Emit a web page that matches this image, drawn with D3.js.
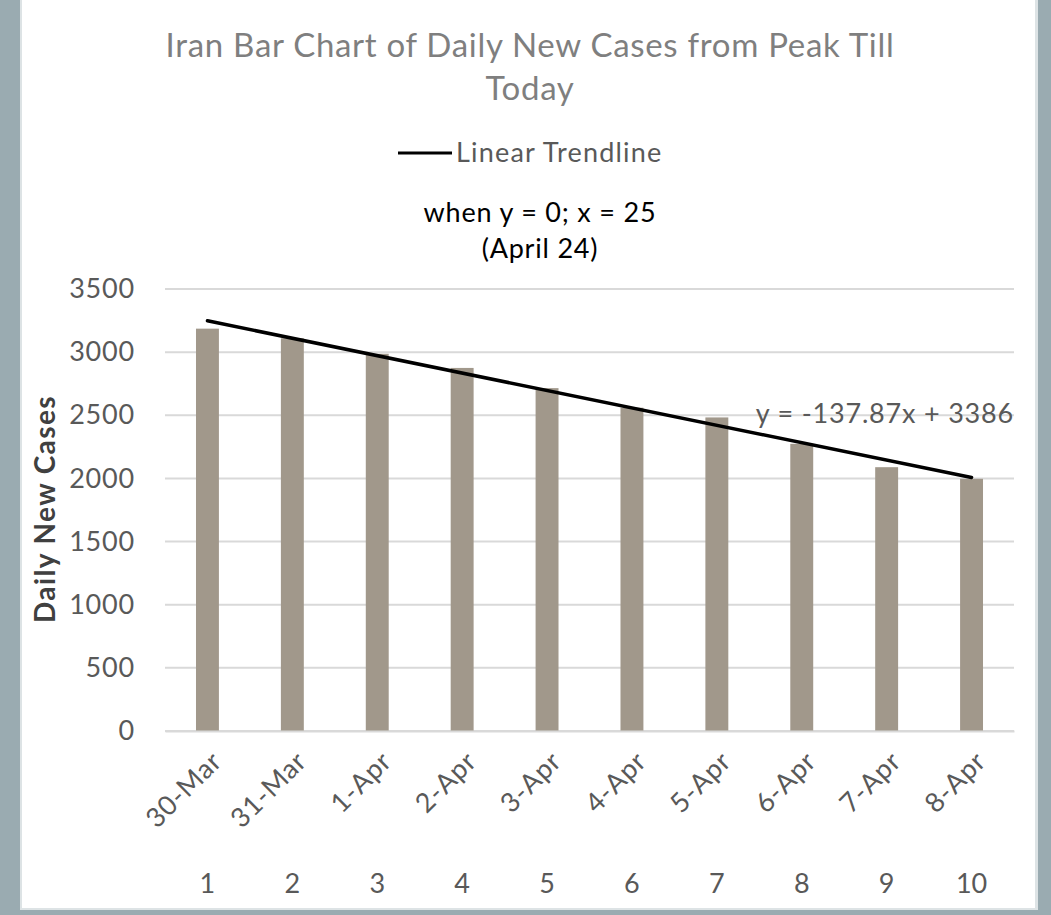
<!DOCTYPE html>
<html>
<head>
<meta charset="utf-8">
<script src="https://cdn.jsdelivr.net/npm/d3@7"></script>
<style>
  body { margin: 0; background: #9aabb1; }
  #chart { position: absolute; left: 0; top: 0; }
</style>
</head>
<body>
<div id="chart"></div>
<script>
const dates = ["30-Mar", "31-Mar", "1-Apr", "2-Apr", "3-Apr", "4-Apr", "5-Apr", "6-Apr", "7-Apr", "8-Apr"];
const dayIndex = [1, 2, 3, 4, 5, 6, 7, 8, 9, 10];
const newCases = [3186, 3110, 2987, 2875, 2715, 2560, 2483, 2274, 2089, 1997];
const yTicks = [0, 500, 1000, 1500, 2000, 2500, 3000, 3500];
const slope = -137.87, intercept = 3386;

const W = 1051, H = 915;
const margin = {top: 289, right: 37, bottom: 184, left: 165},
    width = W - margin.left - margin.right,
    height = H - margin.top - margin.bottom;

const font = "Lato, 'Open Sans', sans-serif";
const ls = "0.8px";   // widen Lato a bit to follow the original face

const root = d3.select("#chart")
  .append("svg")
    .attr("width", W)
    .attr("height", H)
    .style("font-family", font);

// panel
root.append("rect")
  .attr("x", 20).attr("y", 0)
  .attr("width", 1018).attr("height", 910)
  .attr("fill", "#dde3e5");
root.append("rect")
  .attr("x", 22).attr("y", 0)
  .attr("width", 1013).attr("height", 908)
  .attr("fill", "#ffffff");

// title
root.append("text")
  .attr("x", 530).attr("y", 57)
  .attr("text-anchor", "middle")
  .attr("font-size", 33)
  .attr("letter-spacing", "0.7px")
  .attr("fill", "#7f7f7f")
  .text("Iran Bar Chart of Daily New Cases from Peak Till");
root.append("text")
  .attr("x", 530).attr("y", 100)
  .attr("text-anchor", "middle")
  .attr("font-size", 33)
  .attr("letter-spacing", "0.7px")
  .attr("fill", "#7f7f7f")
  .text("Today");

// legend
root.append("line")
  .attr("x1", 398).attr("x2", 452)
  .attr("y1", 153).attr("y2", 153)
  .attr("stroke", "#000").attr("stroke-width", 3);
root.append("text")
  .attr("x", 456).attr("y", 162)
  .attr("font-size", 27)
  .attr("letter-spacing", "1.2px")
  .attr("fill", "#595959")
  .text("Linear Trendline");

// annotation
root.append("text")
  .attr("x", 540).attr("y", 222)
  .attr("text-anchor", "middle")
  .attr("font-size", 27)
  .attr("letter-spacing", ls)
  .attr("fill", "#000")
  .text("when y = 0; x = 25");
root.append("text")
  .attr("x", 540).attr("y", 258)
  .attr("text-anchor", "middle")
  .attr("font-size", 27)
  .attr("letter-spacing", ls)
  .attr("fill", "#000")
  .text("(April 24)");

const svg = root.append("g")
  .attr("transform", `translate(${margin.left}, ${margin.top})`);

const x = d3.scaleBand()
  .domain(dayIndex)
  .range([0, width])
  .paddingInner(0.73)
  .paddingOuter(0.365);

const xLin = d3.scaleLinear()
  .domain([1, 10])
  .range([x(1) + x.bandwidth() / 2, x(10) + x.bandwidth() / 2]);

const y = d3.scaleLinear()
  .domain([0, 3500])
  .range([height, 0]);

// gridlines
svg.append("g")
  .selectAll("line")
  .data(yTicks)
  .join("line")
    .attr("x1", 0).attr("x2", width)
    .attr("y1", d => y(d)).attr("y2", d => y(d))
    .attr("stroke", "#d9d9d9")
    .attr("stroke-width", 2);

// y axis labels
const yAxis = svg.append("g")
  .call(d3.axisLeft(y).tickValues(yTicks).tickFormat(d3.format("d")).tickSize(0).tickPadding(30));
yAxis.select(".domain").remove();
yAxis.selectAll("text")
  .attr("font-family", font)
  .attr("font-size", 27)
  .attr("letter-spacing", ls)
  .attr("fill", "#595959");

// bars
svg.append("g")
  .selectAll("rect")
  .data(newCases)
  .join("rect")
    .attr("x", (d, i) => x(dayIndex[i]))
    .attr("y", d => y(d))
    .attr("width", x.bandwidth())
    .attr("height", d => height - y(d))
    .attr("fill", "#a1988b");

// trendline
svg.append("path")
  .datum([1, 10])
  .attr("fill", "none")
  .attr("stroke", "#000")
  .attr("stroke-width", 3.5)
  .attr("stroke-linecap", "round")
  .attr("d", d3.line()
    .x(d => xLin(d))
    .y(d => y(slope * d + intercept)));

svg.append("text")
  .attr("x", width)
  .attr("y", y(2500) + 8)
  .attr("text-anchor", "end")
  .attr("font-size", 27)
  .attr("letter-spacing", ls)
  .attr("fill", "#595959")
  .text("y = -137.87x + 3386");

// x axis: dates rotated
const xAxis = svg.append("g")
  .attr("transform", `translate(0, ${height})`)
  .call(d3.axisBottom(x).tickSize(0).tickFormat((d, i) => dates[i]));
xAxis.select(".domain")
  .attr("stroke", "#d9d9d9")
  .attr("stroke-width", 2);
xAxis.selectAll("text")
  .attr("font-family", font)
  .attr("font-size", 27)
  .attr("letter-spacing", ls)
  .attr("fill", "#595959")
  .attr("text-anchor", "end")
  .attr("dy", 0)
  .attr("y", 0)
  .attr("transform", "translate(16, 32) rotate(-45)");

// second row: day numbers
svg.append("g")
  .selectAll("text")
  .data(dayIndex)
  .join("text")
    .attr("x", d => x(d) + x.bandwidth() / 2)
    .attr("y", height + 162)
    .attr("text-anchor", "middle")
    .attr("font-size", 27)
    .attr("fill", "#595959")
    .text(d => d);

// y axis title
root.append("text")
  .attr("transform", "translate(55, 509) rotate(-90)")
  .attr("text-anchor", "middle")
  .attr("font-size", 28)
  .attr("font-weight", "bold")
  .attr("letter-spacing", "1.4px")
  .attr("fill", "#404040")
  .text("Daily New Cases");
</script>
</body>
</html>
